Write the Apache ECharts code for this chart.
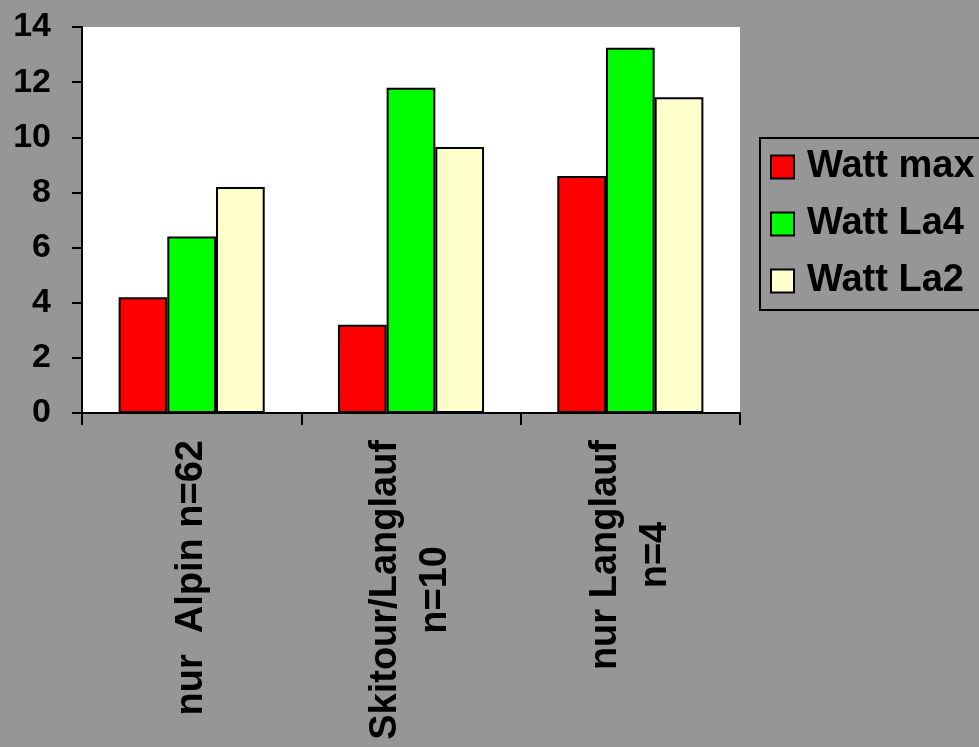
<!DOCTYPE html>
<html>
<head>
<meta charset="utf-8">
<script src="https://cdn.jsdelivr.net/npm/echarts@6/dist/echarts.min.js"></script>
<style>
  html, body { margin: 0; padding: 0; background: #969696; }
  #chart { width: 979px; height: 747px; }
</style>
</head>
<body>
<div id="chart"></div>
<script>
// Categories (line breaks as in the axis labels)
const categories = ['nur  Alpin n=62', 'Skitour/Langlauf\nn=10', 'nur Langlauf\nn=4'];
const seriesNames = ['Watt max', 'Watt La4', 'Watt La2'];
const wattMax = [4.2, 3.2, 8.6];
const wattLa4 = [6.4, 11.8, 13.25];
const wattLa2 = [8.2, 9.65, 11.45];
const yTicks = { min: 0, max: 14, interval: 2 };

const seriesValues = [wattMax, wattLa4, wattLa2];
const seriesColors = ['#ff0000', '#00ff00', '#ffffcc'];
const FONT = '"Liberation Sans", Arial, sans-serif';

const chart = echarts.init(document.getElementById('chart'), null, { renderer: 'canvas' });

chart.setOption({
  backgroundColor: '#969696',
  animation: false,
  grid: {
    left: 82, right: 239, top: 27, bottom: 334,
    show: true, backgroundColor: '#ffffff', borderWidth: 0
  },
  legend: {
    orient: 'vertical',
    left: 760, top: 138,
    data: seriesNames,
    icon: 'rect',
    itemWidth: 23, itemHeight: 23, itemGap: 19,
    padding: [10, 60, 10, 10],
    borderColor: '#000', borderWidth: 2,
    itemStyle: { borderColor: '#000', borderWidth: 2 },
    textStyle: {
      fontFamily: FONT, fontWeight: 'bold', fontSize: 38,
      color: '#000', lineHeight: 34, padding: [0, 0, 0, 8]
    }
  },
  xAxis: {
    type: 'category',
    data: categories,
    axisLine: { show: true, lineStyle: { color: '#000', width: 2 } },
    axisTick: { show: true, inside: false, length: 12, alignWithLabel: false, lineStyle: { color: '#000', width: 2 } },
    axisLabel: {
      interval: 0, rotate: 90, margin: 27,
      formatter: v => v.split('\n').map(s => '{c|' + s + '}').join('\n'),
      rich: {
        c: { align: 'center', fontFamily: FONT, fontWeight: 'bold', fontSize: 38, color: '#000', lineHeight: 50 }
      }
    },
    splitLine: { show: false }
  },
  yAxis: {
    type: 'value',
    min: yTicks.min, max: yTicks.max, interval: yTicks.interval,
    axisLine: { show: true, lineStyle: { color: '#000', width: 2 } },
    axisTick: { show: true, inside: false, length: 10, lineStyle: { color: '#000', width: 2 } },
    axisLabel: { margin: 31, fontFamily: FONT, fontWeight: 'bold', fontSize: 34, color: '#000' },
    splitLine: { show: false }
  },
  series: seriesNames.map((name, i) => ({
    name,
    type: 'bar',
    data: seriesValues[i],
    barGap: '0%',
    barCategoryGap: '33.4%',
    itemStyle: { color: seriesColors[i], borderColor: '#000', borderWidth: 2 }
  }))
});
</script>
</body>
</html>
